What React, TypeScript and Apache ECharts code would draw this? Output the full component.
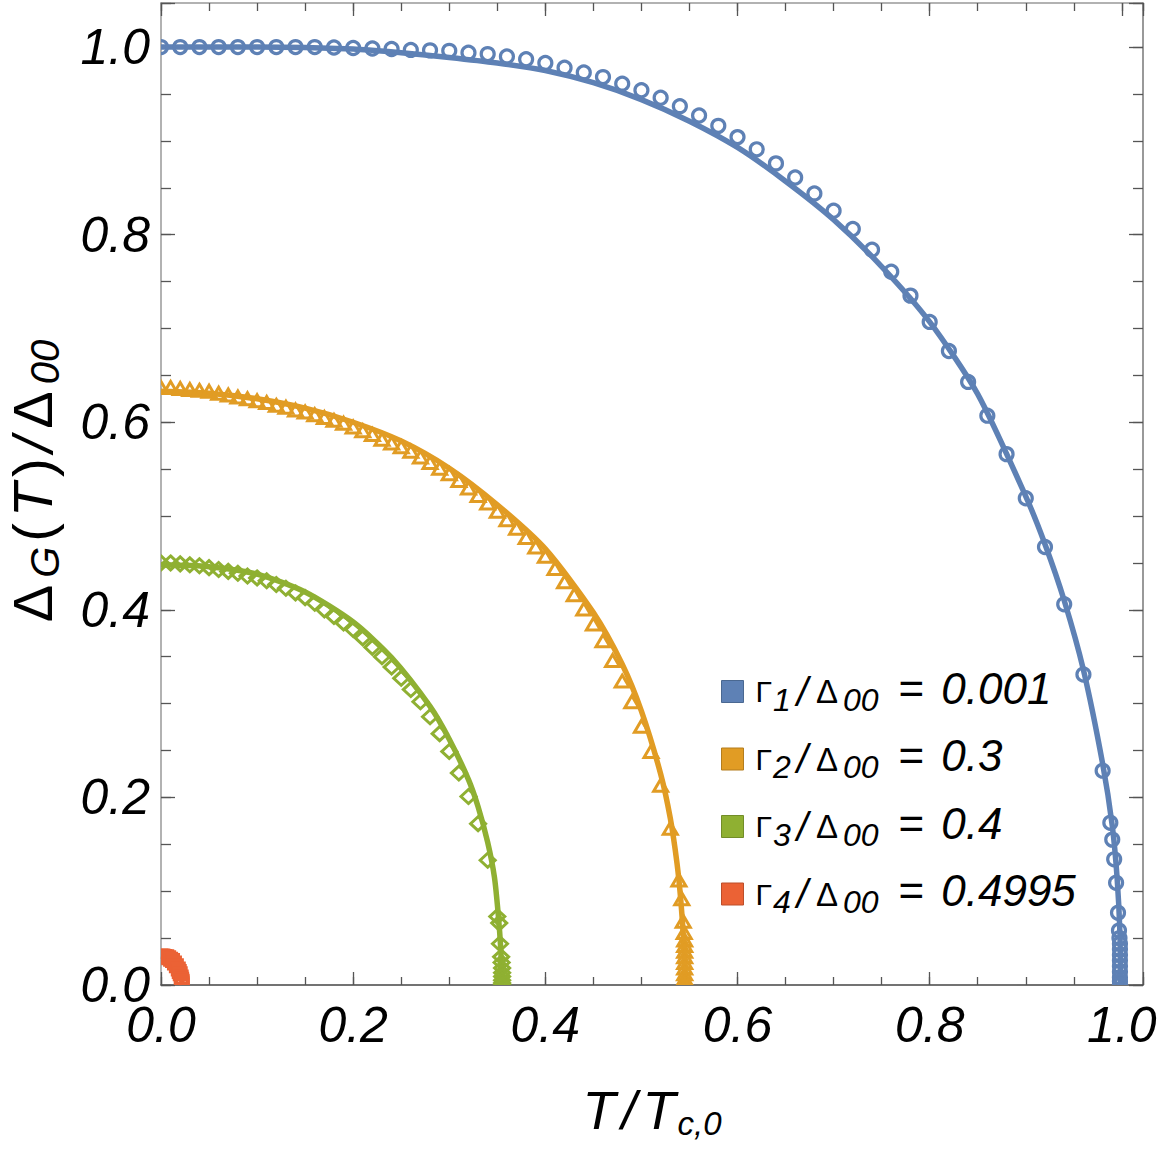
import React, { useEffect, useRef } from "react";
import * as echarts from "echarts";

// ---------- data ----------
const X_TICK_LABELS = ["0.0", "0.2", "0.4", "0.6", "0.8", "1.0"];
const Y_TICK_LABELS = ["0.0", "0.2", "0.4", "0.6", "0.8", "1.0"];
const X_MAX = 1.022;
const Y_MAX = 1.047;

const SERIES_NAMES = ["Γ1/Δ00 = 0.001", "Γ2/Δ00 = 0.3", "Γ3/Δ00 = 0.4", "Γ4/Δ00 = 0.4995"];
const LEGEND_INDEX = ["1", "2", "3", "4"];
const LEGEND_VALUE = ["0.001", "0.3", "0.4", "0.4995"];
const COLORS = ["#5E81B5", "#E19C24", "#8FB032", "#EB6235"];
const EDGE_COLORS = ["#4a6891", "#b47d1d", "#728d28", "#bc4e2a"];

// Γ1 = 0.001 (blue)
const blueLineX = [0, 0.1, 0.2, 0.25, 0.3, 0.35, 0.4, 0.45, 0.5, 0.55, 0.6, 0.65, 0.7, 0.75, 0.8, 0.85, 0.9, 0.92, 0.94, 0.96, 0.98, 0.99, 0.995, 0.998, 0.9985];
const blueLineY = [1.0, 1.0, 0.998, 0.994, 0.989, 0.983, 0.975, 0.962, 0.944, 0.921, 0.893, 0.857, 0.816, 0.766, 0.707, 0.63, 0.521, 0.47, 0.41, 0.336, 0.236, 0.17, 0.115, 0.055, 0];
const blueMarkX = [0, 0.02, 0.04, 0.06, 0.08, 0.1, 0.12, 0.14, 0.16, 0.18, 0.2, 0.22, 0.24, 0.26, 0.28, 0.3, 0.32, 0.34, 0.36, 0.38, 0.4, 0.42, 0.44, 0.46, 0.48, 0.5, 0.52, 0.54, 0.56, 0.58, 0.6, 0.62, 0.64, 0.66, 0.68, 0.7, 0.72, 0.74, 0.76, 0.78, 0.8, 0.82, 0.84, 0.86, 0.88, 0.9, 0.92, 0.94, 0.96, 0.98, 0.988, 0.99, 0.992, 0.994, 0.996, 0.997, 0.9975, 0.998, 0.998, 0.998, 0.998, 0.998, 0.998, 0.998, 0.998, 0.998];
const blueMarkY = [1.0, 1.0, 1.0, 1.0, 1.0, 1.0, 1.0, 1.0, 1.0, 0.9995, 0.999, 0.9985, 0.998, 0.997, 0.9965, 0.996, 0.994, 0.9925, 0.99, 0.987, 0.983, 0.978, 0.973, 0.968, 0.961, 0.954, 0.946, 0.937, 0.927, 0.916, 0.904, 0.891, 0.876, 0.861, 0.844, 0.8255, 0.806, 0.784, 0.7605, 0.735, 0.707, 0.676, 0.643, 0.607, 0.566, 0.519, 0.467, 0.406, 0.331, 0.2285, 0.173, 0.155, 0.134, 0.109, 0.077, 0.058, 0.05, 0.044, 0.038, 0.032, 0.026, 0.02, 0.014, 0.008, 0.004, 0];

// Γ2 = 0.3 (orange)
const orangeLineX = [0, 0.05, 0.1, 0.15, 0.2, 0.25, 0.3, 0.35, 0.4, 0.45, 0.48, 0.5, 0.52, 0.53, 0.537, 0.541, 0.544, 0.5455];
const orangeLineY = [0.633, 0.631, 0.625, 0.615, 0.6, 0.58, 0.551, 0.512, 0.465, 0.397, 0.342, 0.292, 0.225, 0.178, 0.13, 0.09, 0.045, 0];
const orangeMarkX = [0, 0.01, 0.02, 0.03, 0.04, 0.05, 0.06, 0.07, 0.08, 0.09, 0.1, 0.11, 0.12, 0.13, 0.14, 0.15, 0.16, 0.17, 0.18, 0.19, 0.2, 0.21, 0.22, 0.23, 0.24, 0.25, 0.26, 0.27, 0.28, 0.29, 0.3, 0.31, 0.32, 0.33, 0.34, 0.35, 0.36, 0.37, 0.38, 0.39, 0.4, 0.41, 0.42, 0.43, 0.44, 0.45, 0.46, 0.47, 0.48, 0.49, 0.5, 0.51, 0.52, 0.53, 0.539, 0.542, 0.5435, 0.5445, 0.545, 0.545, 0.545, 0.545, 0.545, 0.545, 0.545, 0.545, 0.545, 0.545];
const orangeMarkY = [0.637, 0.637, 0.636, 0.635, 0.634, 0.633, 0.631, 0.629, 0.627, 0.625, 0.623, 0.621, 0.618, 0.616, 0.613, 0.611, 0.608, 0.605, 0.602, 0.599, 0.595, 0.591, 0.587, 0.582, 0.578, 0.574, 0.569, 0.563, 0.557, 0.551, 0.545, 0.538, 0.53, 0.522, 0.514, 0.505, 0.496, 0.487, 0.477, 0.467, 0.457, 0.444, 0.43, 0.416, 0.401, 0.385, 0.367, 0.346, 0.324, 0.302, 0.276, 0.249, 0.213, 0.167, 0.112, 0.092, 0.068, 0.056, 0.048, 0.042, 0.036, 0.03, 0.024, 0.018, 0.012, 0.007, 0.003, 0];

// Γ3 = 0.4 (green)
const greenLineX = [0, 0.05, 0.1, 0.15, 0.2, 0.24, 0.28, 0.3, 0.32, 0.33, 0.34, 0.347, 0.351, 0.3535, 0.355];
const greenLineY = [0.448, 0.446, 0.438, 0.419, 0.387, 0.349, 0.297, 0.262, 0.219, 0.19, 0.152, 0.115, 0.075, 0.04, 0];
const greenMarkX = [0, 0.01, 0.02, 0.03, 0.04, 0.05, 0.06, 0.07, 0.08, 0.09, 0.1, 0.11, 0.12, 0.13, 0.14, 0.15, 0.16, 0.17, 0.18, 0.19, 0.2, 0.21, 0.22, 0.23, 0.24, 0.25, 0.26, 0.27, 0.28, 0.29, 0.3, 0.31, 0.32, 0.33, 0.34, 0.35, 0.352, 0.3528, 0.354, 0.3545, 0.355, 0.355, 0.355, 0.355, 0.355, 0.355];
const greenMarkY = [0.45, 0.45, 0.449, 0.448, 0.447, 0.445, 0.443, 0.441, 0.439, 0.436, 0.434, 0.431, 0.427, 0.423, 0.418, 0.413, 0.407, 0.4, 0.393, 0.386, 0.379, 0.37, 0.36, 0.35, 0.339, 0.327, 0.315, 0.302, 0.286, 0.268, 0.249, 0.226, 0.201, 0.172, 0.133, 0.073, 0.066, 0.044, 0.03, 0.024, 0.018, 0.013, 0.009, 0.005, 0.002, 0];

// Γ4 = 0.4995 (red)
const redLineX = [0, 0.006, 0.011, 0.015, 0.018, 0.02, 0.0215, 0.022];
const redLineY = [0.031, 0.03, 0.027, 0.023, 0.018, 0.012, 0.006, 0];
const redMarkX = [0, 0.002, 0.004, 0.006, 0.008, 0.01, 0.012, 0.014, 0.016, 0.018, 0.019, 0.02, 0.021, 0.0215, 0.022, 0.022, 0.022];
const redMarkY = [0.031, 0.031, 0.0305, 0.03, 0.029, 0.0275, 0.026, 0.0235, 0.0205, 0.017, 0.0145, 0.012, 0.0085, 0.006, 0.004, 0.002, 0];

// ---------- helpers ----------
const pairs = (xs: number[], ys: number[]) => xs.map((x, i) => [x, ys[i]]);
const FONT = "'Liberation Sans', Arial, sans-serif";

const tickLabel = (labels: string[]) => (v: number) => {
  const k = Math.round(v / 0.2);
  if (Math.abs(v - k * 0.2) > 1e-6) return "";
  return labels[k] ?? "";
};

function xAxisDef(position: "bottom" | "top", interval: number, len: number, withLabels: boolean, lineColor: string) {
  return {
    type: "value",
    position,
    min: 0,
    max: X_MAX,
    interval,
    axisLine: { show: lineColor !== "", onZero: false, lineStyle: { color: lineColor || "#000", width: 1.5 } },
    axisTick: { show: true, inside: true, length: len, lineStyle: { color: "#555", width: 1.3 } },
    axisLabel: withLabels
      ? { show: true, formatter: tickLabel(X_TICK_LABELS), margin: 19, lineHeight: 42, fontSize: 50, fontStyle: "italic", fontFamily: FONT, color: "#000" }
      : { show: false },
    splitLine: { show: false },
  };
}

function yAxisDef(position: "left" | "right", interval: number, len: number, withLabels: boolean, lineColor: string) {
  return {
    type: "value",
    position,
    min: 0,
    max: Y_MAX,
    interval,
    axisLine: { show: lineColor !== "", onZero: false, lineStyle: { color: lineColor || "#000", width: 1.5 } },
    axisTick: { show: true, inside: true, length: len, lineStyle: { color: "#555", width: 1.3 } },
    axisLabel: withLabels
      ? { show: true, formatter: tickLabel(Y_TICK_LABELS), margin: 11, lineHeight: 40, fontSize: 50, fontStyle: "italic", fontFamily: FONT, color: "#000" }
      : { show: false },
    splitLine: { show: false },
  };
}

const lineSeries = (name: string, xs: number[], ys: number[], color: string) => ({
  type: "line",
  name,
  data: pairs(xs, ys),
  symbol: "none",
  showSymbol: false,
  smooth: 0.25,
  lineStyle: { color, width: 5.5 },
  itemStyle: { color },
  z: 2,
  xAxisIndex: 0,
  yAxisIndex: 0,
});

// hollow markers drawn with a custom series so they are clipped at the frame like the original
const markSeries = (name: string, xs: number[], ys: number[], color: string, shape: string, w: number, h: number, bw: number) => ({
  type: "custom",
  name,
  data: pairs(xs, ys),
  clip: true,
  z: 3,
  xAxisIndex: 0,
  yAxisIndex: 0,
  renderItem: (_params: any, api: any) => {
    const p = api.coord([api.value(0), api.value(1)]);
    const cx = p[0];
    const cy = p[1];
    const style = { fill: "none", stroke: color, lineWidth: bw };
    if (shape === "circle") {
      return { type: "circle", shape: { cx, cy, r: w / 2 }, style };
    }
    if (shape === "rect") {
      return { type: "rect", shape: { x: cx - w / 2, y: cy - h / 2, width: w, height: h }, style };
    }
    if (shape === "triangle") {
      return {
        type: "polygon",
        shape: { points: [[cx, cy - h / 2], [cx + w / 2, cy + h / 2], [cx - w / 2, cy + h / 2]] },
        style,
      };
    }
    return {
      type: "polygon",
      shape: { points: [[cx, cy - h / 2], [cx + w / 2, cy], [cx, cy + h / 2], [cx - w / 2, cy]] },
      style,
    };
  },
});

export default function App() {
  const ref = useRef<HTMLDivElement>(null);

  useEffect(() => {
    if (!ref.current) return;
    const chart = echarts.init(ref.current, null, { renderer: "svg" });

    const base = { fontFamily: FONT, color: "#000", verticalAlign: "middle" };
    const legendRich = {
      G0: { ...base, fontSize: 30, lineHeight: 50, padding: [0, 1, 0, 7] },
      D: { ...base, fontSize: 33, lineHeight: 50, padding: [0, 5, 0, 4] },
      s: { ...base, fontSize: 32, fontStyle: "italic", lineHeight: 30, padding: [16, 2, 0, 0] },
      sl: { ...base, fontSize: 40, fontStyle: "italic", lineHeight: 46, padding: [0, 4, 0, 4] },
      eq: { ...base, fontSize: 44, lineHeight: 40, padding: [0, 17, 7, 18] },
      v: { ...base, fontSize: 44, fontStyle: "italic", lineHeight: 40, padding: [0, 0, 7, 0] },
    };

    const nameRichY = {
      D0: { ...base, fontSize: 56, lineHeight: 64, padding: [0, 5, 0, 28] },
      D: { ...base, fontSize: 56, lineHeight: 64, padding: [0, 5, 0, 5] },
      m: { ...base, fontSize: 56, lineHeight: 64, padding: [0, 3, 0, 3] },
      i: { ...base, fontSize: 56, fontStyle: "italic", lineHeight: 64, padding: [0, 3, 0, 3] },
      sub: { ...base, fontSize: 40, fontStyle: "italic", lineHeight: 34, padding: [26, 2, 0, 2] },
    };
    const nameRichX = {
      i: { ...base, fontSize: 54, fontStyle: "italic", lineHeight: 60 },
      sl: { ...base, fontSize: 54, fontStyle: "italic", lineHeight: 60, padding: [0, 6, 0, 6] },
      sub: { ...base, fontSize: 33, fontStyle: "italic", lineHeight: 30, padding: [26, 0, 0, 2] },
    };

    const xMain: any = xAxisDef("bottom", 0.2, 13, true, "#444");
    xMain.name = "{i|T}{sl|/}{i|T}{sub|c,0}";
    xMain.nameLocation = "middle";
    xMain.nameGap = 95;
    xMain.nameTextStyle = { rich: nameRichX };

    const yMain: any = yAxisDef("left", 0.2, 14, true, "#999");
    yMain.name = "{D0|Δ}{sub|G}{m|(}{i|T}{m|)}{i|/}{D|Δ}{sub|00}";
    yMain.nameLocation = "middle";
    yMain.nameGap = 97;
    yMain.nameRotate = 90;
    yMain.nameTextStyle = { rich: nameRichY };

    chart.setOption({
      animation: false,
      backgroundColor: "#fff",
      grid: { left: 161, right: 20, top: 3, bottom: 164, containLabel: false, outerBoundsMode: "none" },
      xAxis: [
        xMain,
        xAxisDef("bottom", 0.05, 8, false, ""),
        xAxisDef("top", 0.2, 13, false, "#999"),
        xAxisDef("top", 0.05, 8, false, ""),
      ],
      yAxis: [
        yMain,
        yAxisDef("left", 0.05, 10, false, ""),
        yAxisDef("right", 0.2, 14, false, "#777"),
        yAxisDef("right", 0.05, 10, false, ""),
      ],
      legend: {
        orient: "vertical",
        left: 721,
        top: 666,
        padding: 0,
        itemWidth: 22,
        itemHeight: 22,
        itemGap: 16.5,
        icon: "rect",
        selectedMode: false,
        data: SERIES_NAMES.map((n, i) => ({
          name: n,
          itemStyle: { color: COLORS[i], borderColor: EDGE_COLORS[i], borderWidth: 1 },
        })),
        formatter: (name: string) => {
          const i = SERIES_NAMES.indexOf(name);
          return `{G0|Γ}{s|${LEGEND_INDEX[i]}}{sl|/}{D|Δ}{s|00}{eq|=}{v|${LEGEND_VALUE[i]}}`;
        },
        textStyle: { rich: legendRich },
      },
      series: [
        lineSeries(SERIES_NAMES[0], blueLineX, blueLineY, COLORS[0]),
        markSeries("m1", blueMarkX, blueMarkY, COLORS[0], "circle", 13, 13, 3.2),
        lineSeries(SERIES_NAMES[1], orangeLineX, orangeLineY, COLORS[1]),
        markSeries("m2", orangeMarkX, orangeMarkY, COLORS[1], "triangle", 14, 12, 3),
        lineSeries(SERIES_NAMES[2], greenLineX, greenLineY, COLORS[2]),
        markSeries("m3", greenMarkX, greenMarkY, COLORS[2], "diamond", 15, 14, 3),
        lineSeries(SERIES_NAMES[3], redLineX, redLineY, COLORS[3]),
        markSeries("m4", redMarkX, redMarkY, COLORS[3], "rect", 12, 12, 3),
      ],
    } as any);

    return () => chart.dispose();
  }, []);

  return (
    <div
      ref={ref}
      style={{ position: "fixed", left: 0, top: 0, width: 1163, height: 1149, background: "#fff" }}
    />
  );
}
